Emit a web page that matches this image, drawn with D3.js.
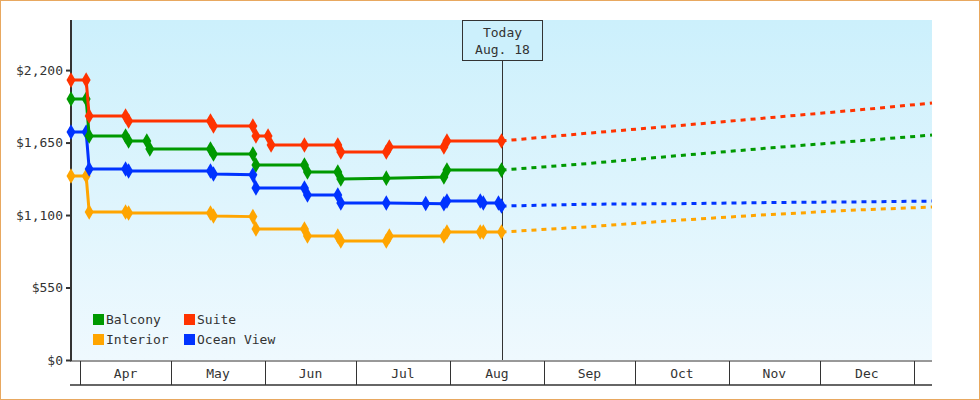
<!DOCTYPE html>
<html>
<head>
<meta charset="utf-8">
<script src="https://cdn.jsdelivr.net/npm/d3@7"></script>
<style>
  body { margin: 0; background: #fff; }
  text { font-family: "DejaVu Sans Mono", monospace; fill: #333; }
</style>
</head>
<body>
<div id="chart"></div>
<script>
const parse = d3.timeParse("%Y-%m-%d");

const seriesNames = ["Balcony", "Suite", "Interior", "Ocean View"];
const seriesColors = ["#009900", "#ff3300", "#ffa500", "#0033ff"];

// history: [date, price]
const suiteHist = [["2023-03-29", 2124], ["2023-04-03", 2124], ["2023-04-04", 1851], ["2023-04-16", 1851], ["2023-04-17", 1813],
  ["2023-05-14", 1813], ["2023-05-15", 1775], ["2023-05-28", 1775], ["2023-05-29", 1700], ["2023-06-02", 1700], ["2023-06-03", 1631],
  ["2023-06-14", 1631], ["2023-06-25", 1631], ["2023-06-26", 1578], ["2023-07-11", 1578], ["2023-07-12", 1616],
  ["2023-07-30", 1616], ["2023-07-31", 1662], ["2023-08-18", 1662]];
const balconyHist = [["2023-03-29", 1980], ["2023-04-03", 1980], ["2023-04-04", 1700], ["2023-04-16", 1700], ["2023-04-17", 1662],
  ["2023-04-23", 1662], ["2023-04-24", 1601], ["2023-05-14", 1601], ["2023-05-15", 1563], ["2023-05-28", 1563], ["2023-05-29", 1480],
  ["2023-06-14", 1480], ["2023-06-15", 1426], ["2023-06-25", 1426], ["2023-06-26", 1373], ["2023-07-11", 1380],
  ["2023-07-30", 1388], ["2023-07-31", 1441], ["2023-08-18", 1441]];
const oceanHist = [["2023-03-29", 1730], ["2023-04-03", 1730], ["2023-04-04", 1449], ["2023-04-16", 1449], ["2023-04-17", 1434],
  ["2023-05-14", 1434], ["2023-05-15", 1411], ["2023-05-28", 1405], ["2023-05-29", 1305], ["2023-06-14", 1305], ["2023-06-15", 1252],
  ["2023-06-25", 1252], ["2023-06-26", 1191], ["2023-07-11", 1191], ["2023-07-24", 1187], ["2023-07-30", 1185], ["2023-07-31", 1206],
  ["2023-08-11", 1206], ["2023-08-12", 1191], ["2023-08-17", 1191], ["2023-08-18", 1168]];
const interiorHist = [["2023-03-29", 1396], ["2023-04-03", 1396], ["2023-04-04", 1123], ["2023-04-16", 1123], ["2023-04-17", 1115],
  ["2023-05-14", 1115], ["2023-05-15", 1093], ["2023-05-28", 1088], ["2023-05-29", 994], ["2023-06-14", 994], ["2023-06-15", 941],
  ["2023-06-25", 941], ["2023-06-26", 903], ["2023-07-11", 903], ["2023-07-12", 941], ["2023-07-30", 941], ["2023-07-31", 971],
  ["2023-08-11", 971], ["2023-08-12", 971], ["2023-08-18", 971]];

// forecast (dashed)
const suiteFc = [["2023-08-18", 1662], ["2023-09-15", 1720], ["2023-10-15", 1778], ["2023-11-15", 1840], ["2023-12-15", 1900], ["2024-01-07", 1950]];
const balconyFc = [["2023-08-18", 1441], ["2023-09-15", 1490], ["2023-10-15", 1550], ["2023-11-15", 1610], ["2023-12-15", 1665], ["2024-01-07", 1707]];
const oceanFc = [["2023-08-18", 1168], ["2023-09-15", 1182], ["2023-10-15", 1186], ["2023-11-15", 1195], ["2023-12-15", 1200], ["2024-01-07", 1206]];
const interiorFc = [["2023-08-18", 971], ["2023-09-15", 1010], ["2023-10-15", 1060], ["2023-11-15", 1105], ["2023-12-15", 1140], ["2024-01-07", 1161]];

const yTicks = [0, 550, 1100, 1650, 2200];
const monthStarts = ["2023-04-01", "2023-05-01", "2023-06-01", "2023-07-01", "2023-08-01", "2023-09-01",
  "2023-10-01", "2023-11-01", "2023-12-01", "2024-01-01", "2024-02-01"];
const todayDate = "2023-08-18";
const todayLabel = ["Today", "Aug. 18"];

const W = 980, H = 400;
const plot = { left: 71, right: 932, top: 20, bottom: 360 };

const svg = d3.select("#chart").append("svg").attr("width", W).attr("height", H);

const grad = svg.append("defs").append("linearGradient")
  .attr("id", "bg").attr("x1", 0).attr("y1", 0).attr("x2", 0).attr("y2", 1);
grad.append("stop").attr("offset", "0%").attr("stop-color", "#ccf0fc");
grad.append("stop").attr("offset", "100%").attr("stop-color", "#eff9fe");

svg.append("rect").attr("x", 0.5).attr("y", 0.5).attr("width", W - 1).attr("height", H - 1)
  .attr("fill", "#fff").attr("stroke", "#e8a860");

const x = d3.scaleTime()
  .domain([parse("2023-03-29"), parse("2024-01-07")])
  .range([plot.left, plot.right]);
const y = d3.scaleLinear().domain([0, 2580]).range([plot.bottom, plot.top]);

svg.append("rect").attr("x", plot.left).attr("y", plot.top)
  .attr("width", plot.right - plot.left).attr("height", plot.bottom - plot.top)
  .attr("fill", "url(#bg)");

// y axis
const yAxis = svg.append("g").attr("transform", `translate(${plot.left},0)`)
  .call(d3.axisLeft(y).tickValues(yTicks).tickSize(5).tickFormat(d => "$" + d3.format(",")(d)));
yAxis.select(".domain").remove();
yAxis.selectAll("line").attr("stroke", "#333").attr("stroke-width", 2);
yAxis.selectAll("text").style("font-size", "13px").attr("fill", "#333");
svg.append("line").attr("x1", plot.left).attr("x2", plot.left).attr("y1", plot.top).attr("y2", plot.bottom + 1)
  .attr("stroke", "#333").attr("stroke-width", 2);

// x axis: month cells
const ms = monthStarts.map(parse);
const xAxis = svg.append("g");
xAxis.append("line").attr("x1", plot.left - 1).attr("x2", plot.right).attr("y1", plot.bottom + 1).attr("y2", plot.bottom + 1)
  .attr("stroke", "#333");
xAxis.append("line").attr("x1", plot.left - 1).attr("x2", plot.right).attr("y1", 385).attr("y2", 385)
  .attr("stroke", "#333").attr("stroke-width", 1.5);
xAxis.selectAll(".sep").data(ms.filter(d => x(d) <= plot.right)).enter().append("line")
  .attr("x1", d => Math.round(x(d)) + 0.5).attr("x2", d => Math.round(x(d)) + 0.5)
  .attr("y1", plot.bottom + 1).attr("y2", 385).attr("stroke", "#333");
xAxis.selectAll(".mlab").data(ms.slice(0, -1)).enter().append("text")
  .attr("x", (d, i) => (x(d) + Math.min(x(ms[i + 1]), plot.right + 90)) / 2)
  .attr("y", 378).attr("text-anchor", "middle").style("font-size", "13px")
  .text(d => d3.timeFormat("%b")(d))
  .filter(function (d) { return x(d) > plot.right - 20; }).remove();

// today marker
const tx = Math.round(x(parse(todayDate))) + 0.5;
svg.append("line").attr("x1", tx).attr("x2", tx).attr("y1", 60).attr("y2", plot.bottom)
  .attr("stroke", "#333");
svg.append("rect").attr("x", tx - 40).attr("y", 20.5).attr("width", 80).attr("height", 40)
  .attr("fill", "#ccf0fc").attr("stroke", "#333");
svg.selectAll(".today").data(todayLabel).enter().append("text")
  .attr("x", tx).attr("y", (d, i) => 37 + i * 17).attr("text-anchor", "middle")
  .style("font-size", "13px").text(d => d);

// series
const hist = [balconyHist, suiteHist, interiorHist, oceanHist];
const fc = [balconyFc, suiteFc, interiorFc, oceanFc];
const line = d3.line().x(d => x(parse(d[0]))).y(d => y(d[1]));
const diamond = d3.symbol().type(d3.symbolDiamond).size(70);

// draw back to front: interior, ocean, balcony, suite
[2, 3, 0, 1].forEach(i => {
  const g = svg.append("g");
  g.append("path").attr("d", line(fc[i])).attr("fill", "none")
    .attr("stroke", seriesColors[i]).attr("stroke-width", 3).attr("stroke-dasharray", "5,5");
  g.append("path").attr("d", line(hist[i])).attr("fill", "none")
    .attr("stroke", seriesColors[i]).attr("stroke-width", 3);
  g.selectAll(".pt").data(hist[i]).enter().append("path")
    .attr("d", diamond)
    .attr("transform", d => `translate(${x(parse(d[0]))},${y(d[1])})`)
    .attr("fill", seriesColors[i]);
});

// legend
const legend = svg.append("g").attr("transform", "translate(93,314)");
seriesNames.forEach((name, i) => {
  const lg = legend.append("g")
    .attr("transform", `translate(${(i % 2) * 91},${Math.floor(i / 2) * 20})`);
  lg.append("rect").attr("width", 11).attr("height", 11).attr("fill", seriesColors[i]);
  lg.append("text").attr("x", 13).attr("y", 10).style("font-size", "13px").text(name);
});
</script>
</body>
</html>
